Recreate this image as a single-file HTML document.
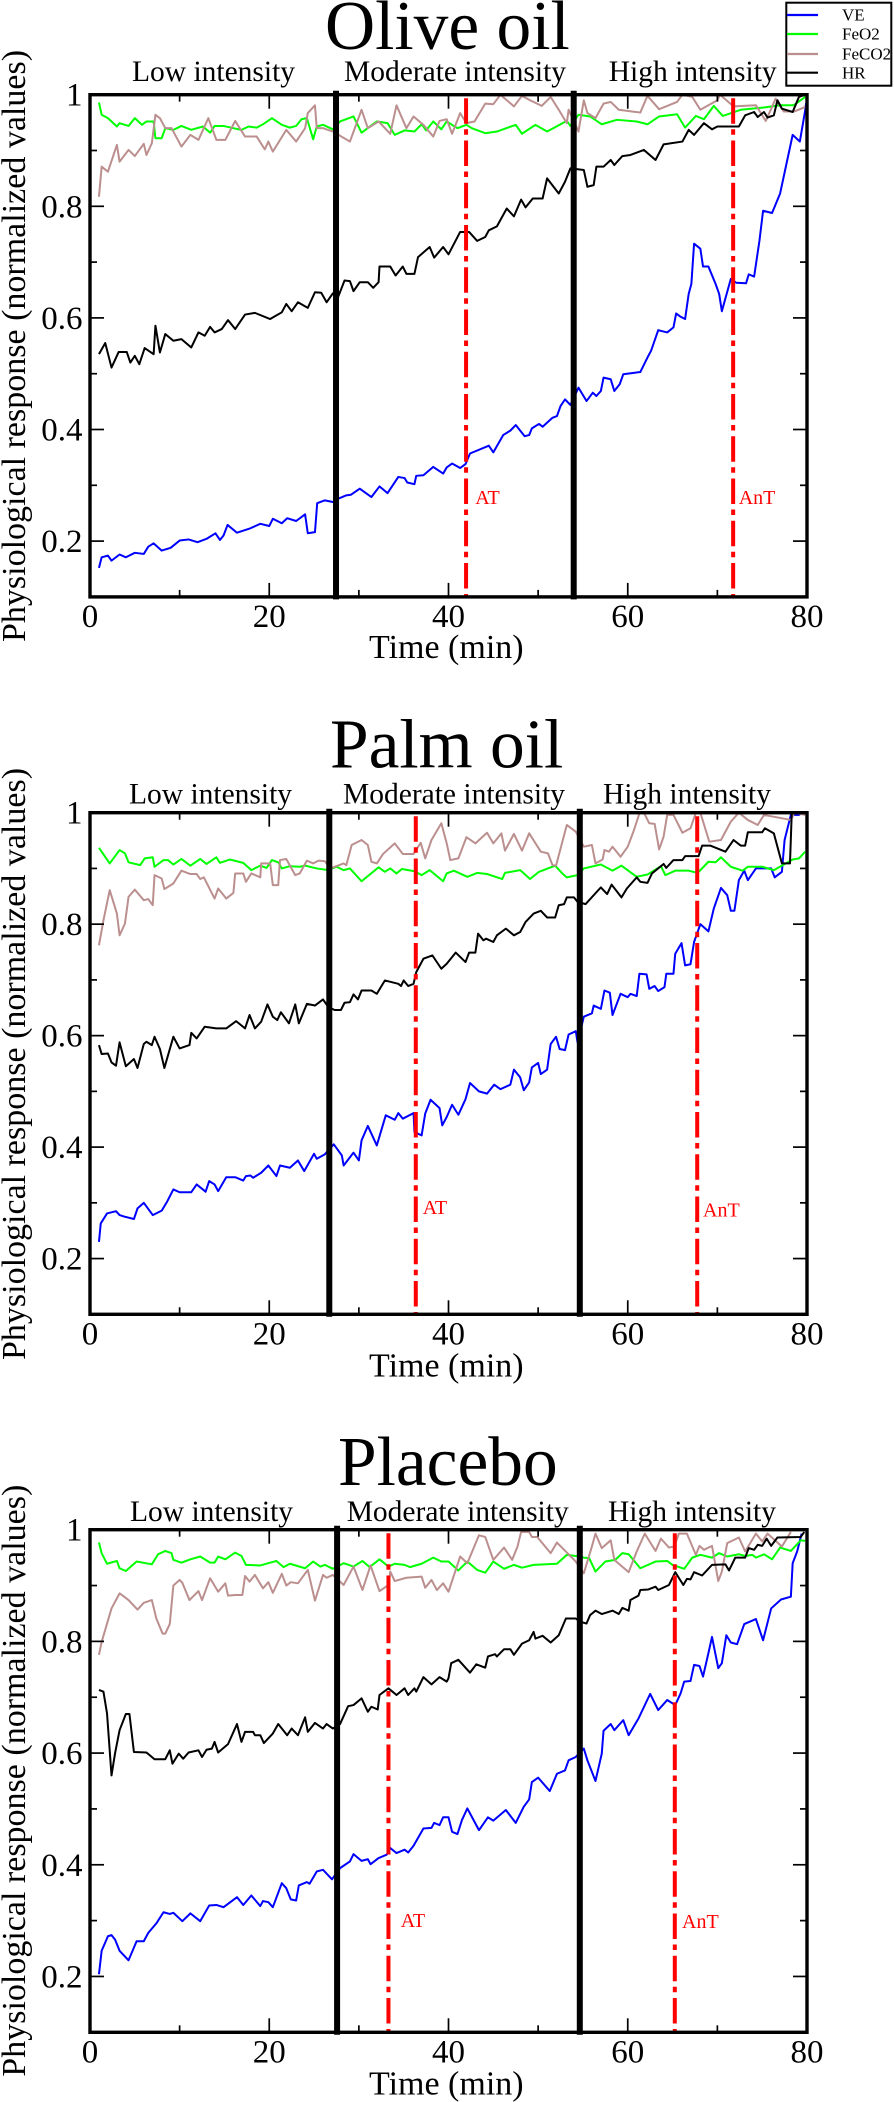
<!DOCTYPE html>
<html lang="en">
<head>
<meta charset="utf-8">
<title>Physiological response during exercise: Olive oil, Palm oil, Placebo</title>
<style>
html,body{margin:0;padding:0;background:#fff;}
svg{display:block;filter:blur(0.35px);}
text{font-family:"Liberation Serif","DejaVu Serif",serif;fill:#000;}
.title{font-size:69.4px;}
.zone{font-size:29.5px;}
.axis-title{font-size:34px;}
.tick{font-size:33px;}
.marker{font-size:20px;fill:#f00;}
.leg{font-size:17px;}
</style>
</head>
<body>
<svg id="figure" xmlns="http://www.w3.org/2000/svg" width="894" height="2102" viewBox="0 0 894 2102">
<rect width="894" height="2102" fill="#fff"/>

<g id="panel-olive">
<text class="title" x="325" y="49">Olive oil</text>
<text class="zone" x="132" y="81">Low intensity</text>
<text class="zone" x="344" y="81">Moderate intensity</text>
<text class="zone" x="608.7" y="81">High intensity</text>
<text class="marker" x="475.3" y="504">AT</text>
<text class="marker" x="738.7" y="504">AnT</text>
<text class="axis-title" x="369" y="658">Time (min)</text>
<text class="axis-title" transform="translate(25 642) rotate(-90)">Physiological response (normalized values)</text>
</g>

<g id="panel-palm">
<text class="title" x="330" y="767.7">Palm oil</text>
<text class="zone" x="129" y="803.3">Low intensity</text>
<text class="zone" x="343" y="803.3">Moderate intensity</text>
<text class="zone" x="603" y="803.3">High intensity</text>
<text class="marker" x="422.7" y="1214">AT</text>
<text class="marker" x="703" y="1216.7">AnT</text>
<text class="axis-title" x="369" y="1376.7">Time (min)</text>
<text class="axis-title" transform="translate(25 1360) rotate(-90)">Physiological response (normalized values)</text>
</g>

<g id="panel-placebo">
<text class="title" x="338" y="1485">Placebo</text>
<text class="zone" x="130" y="1521">Low intensity</text>
<text class="zone" x="346.7" y="1521">Moderate intensity</text>
<text class="zone" x="608" y="1521">High intensity</text>
<text class="marker" x="400.7" y="1927">AT</text>
<text class="marker" x="682" y="1928">AnT</text>
<text class="axis-title" x="369" y="2094.3">Time (min)</text>
<text class="axis-title" transform="translate(25 2076.7) rotate(-90)">Physiological response (normalized values)</text>
</g>

<g id="legend">
<rect x="786.3" y="2.7" width="105" height="83" fill="#fff" stroke="#000" stroke-width="2"/>
<line x1="787" x2="818" y1="15" y2="15" stroke="#0000ff" stroke-width="2.2"/>
<text class="leg" x="842" y="20.7">VE</text>
<line x1="787" x2="818" y1="34" y2="34" stroke="#00ff00" stroke-width="2.2"/>
<text class="leg" x="842" y="39.3">FeO2</text>
<line x1="787" x2="818" y1="54" y2="54" stroke="#bc8f8f" stroke-width="2.2"/>
<text class="leg" x="842" y="59.3">FeCO2</text>
<line x1="787" x2="818" y1="72.7" y2="72.7" stroke="#000" stroke-width="2.2"/>
<text class="leg" x="842" y="78.3">HR</text>
</g>
</svg>

<script>
const xTicksMajor = [0, 20, 40, 60, 80];
const xTicksMinor = [10, 30, 50, 70];
const yTicksMajor = [0.2, 0.4, 0.6, 0.8, 1];
const yTicksMinor = [0.3, 0.5, 0.7, 0.9];
const xTickLabels = ["0", "20", "40", "60", "80"];
const yTickLabels = ["0.2", "0.4", "0.6", "0.8", "1"];

const oliveBoundaries = [27.45, 53.97];
const oliveThresholds = [41.96, 71.76];
const palmBoundaries = [26.7, 54.65];
const palmThresholds = [36.35, 67.75];
const placeboBoundaries = [27.57, 54.65];
const placeboThresholds = [33.3, 65.25];

const oliveVeTime = [1,1.3,2,2.4,3.3,4,5,6,6.5,7.1,
8,9,10,11,12,13,14,14.5,14.9,15.35,
16.4,17.9,19,20,20.4,21.4,22,23,24,24.3,
25.1,25.35,26.2,27.1,27.7,28.6,29.1,30.1,31.4,32.3,
33.2,34.4,35.1,35.4,36.2,36.4,37.2,38.3,39.4,39.8,
40.4,41.3,41.9,42.4,44.5,45,46.1,46.9,47.5,48.5,
49,49.3,50.1,50.5,51.6,52.1,52.5,53,53.6,54.5,
55.4,56.1,56.5,57,57.3,58.1,58.5,59.1,59.5,61.4,
62.2,62.6,63.4,64.4,65.1,65.4,65.9,66.4,66.8,67.1,
67.4,68.1,68.4,69,69.8,70.2,70.5,71.5,72.1,73.2,
73.5,74.1,74.7,75.1,76.1,77,77.8,78.4,79.2,79.8,
79.9];
const oliveVeValues = [.152,.171,.174,.165,.176,.171,.179,.177,.19,.196,
.183,.188,.201,.203,.198,.204,.214,.202,.21,.229,
.215,.223,.231,.227,.24,.232,.241,.236,.248,.214,
.216,.268,.273,.27,.276,.282,.283,.294,.279,.298,
.286,.315,.313,.305,.302,.317,.318,.333,.321,.332,
.339,.331,.338,.357,.371,.359,.39,.398,.408,.388,
.39,.402,.41,.405,.421,.424,.442,.454,.444,.475,
.451,.466,.46,.469,.493,.49,.469,.481,.499,.503,
.529,.541,.578,.574,.583,.608,.602,.598,.643,.661,
.733,.724,.692,.692,.661,.643,.612,.67,.663,.662,
.678,.674,.739,.792,.788,.823,.883,.928,.916,.972,
.985];

const oliveFeo2Time = [1,1.3,2,3,3.3,4.3,5,5.8,6.3,7.1,
7.3,8,8.4,9.3,10.2,11.3,12.6,13.4,13.9,14.9,
16,16.9,17.7,18.6,19.3,20.3,21.4,22.3,23,23.6,
24.2,24.9,25.3,26,27.1,27.9,29.4,30.3,32,33.2,
34,35.1,36.2,37,37.5,38.3,39.2,39.8,41,42,
42.6,44.1,45.4,47.5,48.2,49.7,51,53.2,53.6,54.5,
55.8,57.1,58.8,61,62.2,63.5,65.5,66.4,67.6,68.5,
69.6,70.6,72.6,75.2,77,78.5,79.8];
const oliveFeo2Values = [.986,.964,.958,.943,.949,.944,.958,.946,.952,.952,
.922,.922,.94,.937,.944,.937,.943,.932,.944,.944,
.94,.937,.943,.941,.947,.958,.946,.941,.944,.956,
.958,.92,.943,.946,.938,.952,.961,.932,.952,.949,
.928,.936,.934,.947,.936,.952,.938,.952,.94,.946,
.94,.931,.934,.946,.93,.946,.934,.953,.944,.964,
.961,.947,.955,.952,.947,.961,.965,.941,.962,.956,
.98,.962,.973,.977,.981,.981,.996];

const oliveFeco2Time = [1,1.3,2,3,3.3,4.3,5,6,6.3,6.9,
7.3,7.8,8.4,9.1,10.2,11.2,12.1,13.2,14.1,15.1,
16.2,17.3,18.6,19.5,19.9,20.4,21.9,23,24,24.3,
25.1,25.3,26,27.1,29,30.3,31,32.2,33.5,34.2,
35.3,36.1,37.2,38.3,39,39.8,40.4,41.3,42,42.9,
44.1,45,45.8,47.3,48.2,49.1,50.4,51.4,52.3,53.2,
53.4,54.5,55.1,55.5,56.4,57.3,58.1,59,61.4,62.2,
63.5,65.5,66.1,67.2,68.1,70,70.3,71.8,74.3,75.4,
76.5,77.4,78.6,79.8];
const oliveFeco2Values = [.817,.871,.862,.91,.88,.901,.89,.912,.892,.913,
.964,.958,.94,.94,.907,.928,.919,.958,.919,.919,
.953,.925,.925,.902,.916,.898,.937,.916,.94,.967,
.981,.94,.94,.934,.916,.973,.94,.952,.93,.981,
.94,.961,.946,.925,.953,.956,.93,.967,.949,.952,
.984,.983,1,.979,.998,.99,.98,.996,.973,.949,
.973,.934,.99,.967,.958,.984,.987,.973,.968,.998,
.974,.987,1,.996,.973,.99,1,.979,.981,.953,
.993,.97,.97,.978];

const oliveHrTime = [1,1.7,2.4,3.2,4.1,4.5,5,5.5,6.1,7.1,
7.3,7.8,8.4,9.3,10.2,11.3,12.1,12.8,13.4,13.9,
14.7,15.4,16.2,17.3,18.4,20.1,21.4,21.9,22.5,23.2,
24.3,25.1,25.8,26.4,27.1,27.7,28.4,29,29.4,30.1,
31,31.6,32.2,32.3,33.5,34.1,34.9,35.3,36.2,36.6,
37.9,38.4,39.4,40,41.3,42.3,43.2,44.1,44.5,45.4,
46.5,47.3,48.1,48.6,49.4,50.5,51,52.3,53,53.6,
55.1,55.5,56.2,56.5,57.3,58.1,58.5,59.4,60.3,61.8,
63.1,64,66.1,66.8,67.4,68.5,69.4,70,72.4,73.1,
74.1,74.5,75.2,75.6,76.3,76.7,77.2,78.4,79.1,79.8];
const oliveHrValues = [.535,.555,.511,.539,.539,.52,.532,.517,.546,.535,
.586,.538,.571,.559,.562,.547,.574,.568,.584,.574,
.58,.596,.58,.606,.609,.598,.61,.625,.612,.628,
.618,.646,.645,.628,.644,.638,.667,.666,.648,.664,
.664,.654,.664,.692,.692,.676,.692,.679,.679,.709,
.727,.708,.727,.714,.754,.754,.738,.745,.757,.764,
.796,.782,.812,.798,.814,.814,.85,.823,.844,.868,
.865,.835,.838,.871,.871,.883,.874,.89,.892,.901,
.883,.911,.916,.937,.928,.949,.938,.943,.943,.963,
.969,.96,.969,.959,.963,.99,.975,.969,.996,1];

const palmVeTime = [1,1.2,1.9,2.9,3.3,3.9,4.9,5.3,6,7,
8,8.6,9.3,10,11.3,11.9,12.9,13.3,13.9,14.3,
15.2,16.2,17.1,17.4,17.9,18.2,19.1,19.9,20.8,21.2,
22.3,23.2,23.9,25,25.3,26.2,27.2,28.1,28.3,29.4,
30,30.3,31,32,33,34,34.4,34.9,36.1,36.2,
37,37.4,38,39,39.3,39.8,40.4,41.1,41.9,42.4,
43.4,44.3,45.1,45.8,46.9,47.3,48,48.4,49,49.3,
50,50.3,51,51.4,52,52.4,53,53.4,54.2,54.4,
55.1,56,56.2,57,57.4,58,58.3,59.2,60,60.3,
61,61.3,62.1,62.4,63,63.4,64.1,64.3,65.1,65.3,
66,66.4,67,67.4,68.1,69,69.6,70.4,71.1,71.5,
71.9,72.4,73,73.4,74.3,76,76.4,77.2,77.5,78.2,
78.4,79.1,79.5];
const palmVeValues = [.23,.263,.281,.285,.278,.275,.271,.29,.3,.278,
.286,.302,.324,.319,.319,.333,.32,.339,.333,.321,
.346,.346,.34,.348,.349,.345,.354,.367,.348,.367,
.363,.376,.357,.388,.379,.387,.405,.385,.367,.39,
.376,.412,.438,.403,.457,.449,.461,.451,.461,.427,
.421,.46,.485,.47,.439,.454,.476,.458,.486,.515,
.5,.496,.512,.504,.512,.539,.525,.502,.516,.543,
.551,.531,.539,.585,.598,.576,.574,.602,.608,.588,
.634,.64,.654,.648,.681,.677,.637,.675,.669,.675,
.671,.711,.71,.684,.689,.68,.687,.711,.711,.747,
.766,.726,.728,.768,.8,.787,.828,.865,.852,.824,
.824,.879,.896,.879,.9,.9,.884,.894,.951,.996,
.996,.996,1];

const palmFeo2Time = [1,2.2,3.3,3.9,4.3,5.6,6.1,7,7.2,8.2,
8.7,9.3,10.2,11.2,12.3,13,14.1,14.5,15.6,17.1,
18,19,19.7,20.3,21,21.4,22.3,23.4,24,25.3,
26.6,27.5,28.3,29,30.3,32.2,32.9,33.5,34.2,34.8,
36.2,37,37.9,39.4,39.8,40.6,42.1,43.2,44.3,46,
46.3,48,49.1,50.1,51.9,52.7,53.2,54.4,55.1,57,
58.3,59.3,61,62.2,63.7,64.2,65.3,66.8,67.8,69,
69.8,70.4,71.5,72.8,73.4,75,76.3,77.3,78.4,79.1,
79.8];
const palmFeo2Values = [.937,.909,.933,.927,.911,.906,.918,.92,.903,.915,
.915,.907,.917,.905,.917,.908,.92,.91,.916,.91,
.897,.905,.901,.915,.911,.9,.904,.903,.905,.9,
.897,.903,.897,.9,.877,.902,.894,.9,.891,.899,
.895,.888,.897,.877,.891,.896,.885,.892,.89,.881,
.892,.897,.881,.894,.905,.891,.884,.888,.9,.907,
.896,.905,.885,.889,.904,.888,.896,.896,.892,.912,
.911,.92,.903,.896,.903,.903,.897,.906,.916,.918,
.93];

const palmFeco2Time = [1,1.5,2.2,3,3.3,3.9,4.3,5,6,6.5,
7,7.2,8,8.3,9.3,10.2,11.2,11.9,12.3,12.7,
13.9,14.3,15.2,16,16.2,17.1,17.4,18,19,19.1,
20.1,20.4,21,21.2,21.9,22.9,23.4,24.2,24.9,25.5,
26.2,26.8,28.3,28.6,29.2,30.3,31,31.4,32,32.7,
34,34.9,36.1,36.9,37.4,38.1,39.2,39.8,40.2,41.1,
42,43,44.3,45,45.9,46.3,47.3,48.2,49,50.3,
51.1,51.6,52,53.2,54.2,55.1,56,56.4,57.2,57.4,
57.9,58.3,59.2,60,60.7,61.3,61.8,62.4,63,63.5,
64,64.4,65.1,66.1,67,67.6,68.1,69.1,70.4,71.5,
72.4,73.4,74.5,75.2,78.2,78.6,79.8];
const palmFeco2Values = [.762,.807,.861,.819,.78,.801,.849,.862,.843,.845,
.834,.888,.882,.863,.873,.896,.89,.89,.881,.884,
.846,.864,.846,.856,.891,.891,.876,.891,.884,.909,
.909,.87,.87,.915,.917,.888,.891,.914,.909,.914,
.913,.9,.909,.906,.942,.951,.942,.912,.909,.926,
.945,.926,.926,.946,.918,.951,.981,.945,.915,.918,
.956,.945,.964,.945,.963,.932,.962,.932,.963,.93,
.927,.906,.905,.978,.966,.939,.942,.909,.916,.933,
.93,.939,.921,.939,.969,.999,1,.981,.98,.934,
.957,.996,.996,.964,.972,1,1,.948,.951,.984,
1,.987,.978,.996,.987,1,.996];

const palmHrTime = [1,1.3,2,2.4,2.9,3.3,4,4.9,5.3,6,
6.3,6.9,7.2,7.8,8.3,9.3,10,11.1,11.3,11.9,
12.8,14.1,15.2,16.3,17.3,17.8,18.4,19.1,19.8,20.4,
20.9,21.3,22.2,22.9,23.3,24.2,25.1,26,26.6,27.3,
28,28.4,29,29.4,29.9,30.3,31.4,32,32.9,34.4,
34.7,35,35.5,36.1,36.4,37.2,38.2,39.2,39.8,40.8,
41.9,42.3,43,43.3,43.9,44.2,45,45.4,46.4,47.3,
48,48.6,49.5,50.3,51,51.9,52.3,52.9,53.2,54,
54.4,55.3,57,57.7,58.2,59.3,59.9,61,61.4,62.2,
62.7,64,64.3,65.1,66.1,66.4,67.9,68.3,69.2,70.9,
71.8,72.6,73.1,73.4,75,75.3,76.3,77.2,78.1,78.3];
const palmHrValues = [.583,.567,.568,.552,.546,.588,.545,.558,.542,.585,
.589,.583,.598,.576,.542,.598,.577,.583,.605,.595,
.616,.613,.613,.626,.613,.637,.613,.625,.656,.634,
.628,.642,.622,.656,.622,.657,.654,.665,.651,.646,
.646,.659,.66,.674,.665,.681,.681,.675,.699,.693,
.689,.699,.689,.693,.714,.738,.744,.72,.729,.749,
.732,.749,.749,.783,.771,.774,.768,.78,.792,.78,
.786,.804,.819,.824,.812,.812,.834,.836,.848,.848,
.84,.836,.866,.854,.871,.848,.864,.884,.876,.874,
.891,.908,.901,.915,.915,.922,.922,.941,.941,.93,
.951,.941,.941,.965,.965,.972,.963,.909,.909,1];

const placeboVeTime = [1,1.3,2,2.4,2.8,3.3,4.3,5.2,6,6.5,
7.4,8.2,8.9,9.3,10.3,11.2,12.3,13.3,14.1,14.9,
16.4,17.1,18,19,19.3,19.9,20.4,21.4,21.9,22.4,
23,23.3,24.2,24.5,25.3,26,27,27.9,29,29.4,
30.3,31,31.3,32.2,33.1,33.5,34.2,35.1,35.5,36.1,
37.2,38.1,38.4,39,39.4,40,40.4,41,41.5,42.1,
43.4,44.4,45,46.4,47.5,48.4,49,49.3,50,51.3,
52.1,53,53.4,54.2,55.1,55.5,56.4,57.1,57.3,58.1,
58.5,59.5,60.1,61.2,62.5,63.4,64.4,65.3,65.9,66.3,
67,67.4,68,68.4,69,69.4,70.1,70.5,71,71.5,
72.2,73,74.3,75.1,76,77.1,78.2,78.4,78.9,79.4];
const placeboVeValues = [.204,.246,.272,.274,.266,.246,.229,.263,.263,.278,
.295,.315,.312,.314,.299,.313,.299,.327,.328,.324,
.342,.328,.345,.326,.335,.333,.324,.367,.358,.338,
.336,.363,.369,.366,.388,.391,.374,.394,.406,.419,
.407,.41,.401,.412,.418,.43,.421,.427,.422,.434,
.465,.466,.475,.471,.485,.485,.459,.455,.48,.501,
.462,.485,.479,.498,.475,.504,.517,.548,.556,.532,
.563,.569,.587,.593,.608,.587,.55,.599,.64,.652,
.641,.659,.632,.662,.706,.677,.695,.686,.707,.728,
.729,.758,.756,.737,.779,.808,.752,.761,.811,.798,
.795,.831,.84,.802,.859,.875,.88,.94,.961,.993];

const placeboFeo2Time = [1,1.3,1.9,3,3.3,4,5.2,6.9,7.6,8.4,
9.1,9.3,10.2,11.2,12.3,13.4,13.9,14.3,15.1,16.2,
16.9,17.4,19,20.8,21.6,22.3,24,24.9,25.7,26.2,
27.1,28.3,29.4,30.4,31.2,32.3,33.3,34,35.1,35.7,
37,38.3,39.2,40,41.1,42.1,43.2,44.1,45,46.2,
47.3,48.2,49.5,52.1,53.2,54.2,55.1,55.7,56.4,57.5,
58.6,59.4,60.1,61.4,63.1,64.4,65,66.3,67.2,68.1,
69.4,70.2,71.1,72.4,73.1,73.9,74.3,75.2,76.1,77,
78.2,79.3,79.8];
const placeboFeo2Values = [.977,.958,.939,.944,.931,.926,.943,.938,.956,.962,
.958,.946,.941,.947,.952,.941,.941,.952,.947,.959,
.953,.937,.936,.944,.933,.939,.931,.943,.934,.937,
.93,.94,.934,.944,.933,.947,.934,.939,.937,.933,
.939,.95,.943,.943,.927,.943,.928,.923,.943,.93,
.937,.932,.937,.939,.955,.953,.95,.949,.925,.943,
.946,.958,.956,.931,.943,.944,.937,.93,.95,.955,
.95,.958,.952,.956,.953,.955,.95,.956,.947,.968,
.962,.981,.98];

const placeboFeco2Time = [1,1.3,2.4,3.3,4.3,5.3,6,6.9,7.4,8.1,
8.4,8.9,9.3,10,10.3,11.1,12.1,12.5,13.4,14.3,
15.1,15.4,16.2,17,17.3,17.8,18.4,19.3,19.9,20.4,
21.4,21.9,22.4,23.2,24.3,25.1,26,26.4,27.1,28.3,
29.4,30.4,31.3,32.3,33.3,33.5,34,35.3,37,37.4,
38.1,38.7,39.4,40,41.3,42.1,43.4,44.1,45,46.2,
47.1,47.7,48.1,49,49.3,49.9,51.4,52.1,54.2,55.1,
56,56.4,57.1,58.1,58.5,60.1,61,61.9,63.1,63.7,
64.6,65.2,65.7,66.6,67.6,68,68.5,69.4,70.1,70.5,
71.1,72.4,73.1,74.3,75,75.6,77.2,78.2];
const placeboFeco2Values = [.776,.799,.859,.886,.874,.857,.869,.874,.841,.814,
.814,.831,.9,.91,.905,.874,.89,.874,.913,.889,
.904,.882,.883,.883,.917,.907,.919,.895,.906,.887,
.921,.9,.906,.904,.928,.873,.919,.914,.919,.901,
.934,.892,.936,.89,.901,.925,.908,.914,.916,.896,
.91,.892,.904,.889,.952,.94,.99,.987,.946,.968,
.946,.97,.996,.996,.987,.987,.958,.977,.943,.922,
.97,.993,.967,.981,.946,.924,.961,.993,.962,.984,
.968,.97,.993,.993,.955,.971,.964,.971,.908,.925,
.976,.986,.961,.993,.979,.993,.97,.996];

const placeboHrTime = [1,1.5,1.9,2.4,2.8,3.3,4,4.4,4.9,6.3,
7.2,8.4,8.9,9.2,9.9,10.4,11,12.1,12.5,13,
13.6,13.9,14.3,15.4,16.4,16.9,17.3,18.2,18.4,19,
19.4,20.4,21,22,22.5,23.2,24,24.3,25.1,26,
26.4,27.1,27.9,28.8,29.4,30.3,31,31.4,32.1,32.3,
33.3,34.2,35.1,35.5,36.2,36.4,37.2,38.1,39,39.8,
40,40.3,41.1,42.4,43.1,44.1,44.4,45.2,45.4,46.2,
46.9,47.3,48.2,49,49.5,49.7,50.5,51.4,52.3,53.1,
54.2,54.7,55.4,55.8,56.4,57.1,58.3,59,59.4,60.1,
60.3,61.2,61.4,62.3,63.1,63.4,64.6,65.3,66.2,66.6,
67,67.4,68.3,69.4,70.9,71.3,72,73.1,73.5,74.1,
74.5,75,75.5,76,76.7,79.3,79.7];
const placeboHrValues = [.713,.71,.671,.56,.6,.641,.67,.67,.602,.601,
.589,.589,.605,.581,.599,.59,.601,.605,.593,.606,
.608,.62,.601,.616,.652,.62,.638,.638,.632,.632,
.618,.635,.652,.632,.644,.632,.664,.638,.654,.644,
.652,.644,.652,.684,.686,.698,.674,.683,.678,.704,
.716,.704,.716,.704,.716,.71,.736,.723,.736,.728,
.734,.761,.767,.744,.759,.753,.773,.777,.773,.786,
.786,.776,.796,.802,.817,.805,.81,.798,.811,.841,
.841,.835,.832,.847,.855,.849,.855,.849,.86,.855,
.874,.882,.892,.893,.898,.892,.901,.924,.901,.912,
.911,.924,.918,.937,.938,.927,.95,.95,.967,.964,
.973,.971,.984,.971,.986,.987,.996];

const NS = "http://www.w3.org/2000/svg";
const plotLeft = 90;
const plotRight = 807;
const xMin = 0, xMax = 80, yMin = 0.1, yMax = 1;
const xScale = t => plotLeft + (t - xMin) * (plotRight - plotLeft) / (xMax - xMin);

function makeYScale(top, bottom) {
  return v => top + (yMax - v) * (bottom - top) / (yMax - yMin);
}

function addLine(parent, x1, y1, x2, y2, color, width, name) {
  const el = document.createElementNS(NS, "line");
  el.setAttribute("x1", x1);
  el.setAttribute("y1", y1);
  el.setAttribute("x2", x2);
  el.setAttribute("y2", y2);
  el.setAttribute("stroke", color);
  el.setAttribute("stroke-width", width);
  
  
  parent.appendChild(el);
  return el;
}

function addTickLabel(parent, x, y, label, anchor, name) {
  const el = document.createElementNS(NS, "text");
  el.setAttribute("class", "tick");
  el.setAttribute("x", x);
  el.setAttribute("y", y);
  el.setAttribute("text-anchor", anchor);
  el.textContent = label;
  
  
  parent.appendChild(el);
}

function addSeries(parent, times, values, yScale, color, name) {
  const n = Math.min(times.length, values.length);
  const pts = [];
  for (let i = 0; i < n; i++) {
    pts.push(xScale(times[i]).toFixed(2) + "," + yScale(values[i]).toFixed(2));
  }
  const el = document.createElementNS(NS, "polyline");
  el.setAttribute("points", pts.join(" "));
  el.setAttribute("fill", "none");
  el.setAttribute("stroke", color);
  el.setAttribute("stroke-width", "2");
  el.setAttribute("stroke-linejoin", "round");
  
  
  parent.appendChild(el);
}

function drawPanel(groupId, top, bottom, seriesList, boundaries, thresholds) {
  const group = document.getElementById(groupId);
  const yScale = makeYScale(top, bottom);

  seriesList.forEach(s => addSeries(group, s[0], s[1], yScale, s[2], s[3]));

  thresholds.forEach((t, i) => {
    const ln = addLine(group, xScale(t), top + 3.5, xScale(t), bottom, "#f00", 4, i === 0 ? "at-threshold-line" : "ant-threshold-line");
    ln.setAttribute("stroke-dasharray", "25.5 5.6 5.5 5.65");
  });

  const frame = document.createElementNS(NS, "rect");
  frame.setAttribute("x", plotLeft);
  frame.setAttribute("y", top);
  frame.setAttribute("width", plotRight - plotLeft);
  frame.setAttribute("height", bottom - top);
  frame.setAttribute("fill", "none");
  frame.setAttribute("stroke", "#000");
  frame.setAttribute("stroke-width", "3.4");
  
  
  group.appendChild(frame);

  xTicksMajor.forEach((t, i) => {
    if (t > xMin && t < xMax) {
      addLine(group, xScale(t), bottom, xScale(t), bottom - 14, "#000", 1.7, "x-major-tick");
      addLine(group, xScale(t), top, xScale(t), top + 14, "#000", 1.7, "x-major-tick-top");
    }
    addTickLabel(group, xScale(t), bottom + 30, xTickLabels[i], "middle", "x-tick-label");
  });
  xTicksMinor.forEach(t => {
    addLine(group, xScale(t), bottom, xScale(t), bottom - 7, "#000", 1.7, "x-minor-tick");
    addLine(group, xScale(t), top, xScale(t), top + 7, "#000", 1.7, "x-minor-tick-top");
  });
  yTicksMajor.forEach((v, i) => {
    if (v < yMax) {
      addLine(group, plotLeft, yScale(v), plotLeft + 14, yScale(v), "#000", 1.7, "y-major-tick");
      addLine(group, plotRight, yScale(v), plotRight - 14, yScale(v), "#000", 1.7, "y-major-tick-right");
    }
    addTickLabel(group, 82.5, yScale(v) + 11, yTickLabels[i], "end", "y-tick-label");
  });
  yTicksMinor.forEach(v => {
    addLine(group, plotLeft, yScale(v), plotLeft + 7, yScale(v), "#000", 1.7, "y-minor-tick");
    addLine(group, plotRight, yScale(v), plotRight - 7, yScale(v), "#000", 1.7, "y-minor-tick-right");
  });

  boundaries.forEach(t => {
    addLine(group, xScale(t), top - 4, xScale(t), bottom + 2.5, "#000", 6, "intensity-boundary-line");
  });
}

const colorVe = "#0000ff";
const colorFeo2 = "#00ff00";
const colorFeco2 = "#bc8f8f";
const colorHr = "#000000";

drawPanel("panel-olive", 94.7, 596.9, [
  [oliveVeTime, oliveVeValues, colorVe, "ve-line"],
  [oliveFeo2Time, oliveFeo2Values, colorFeo2, "feo2-line"],
  [oliveFeco2Time, oliveFeco2Values, colorFeco2, "feco2-line"],
  [oliveHrTime, oliveHrValues, colorHr, "hr-line"]
], oliveBoundaries, oliveThresholds);

drawPanel("panel-palm", 812.7, 1314.3, [
  [palmVeTime, palmVeValues, colorVe, "ve-line"],
  [palmFeo2Time, palmFeo2Values, colorFeo2, "feo2-line"],
  [palmFeco2Time, palmFeco2Values, colorFeco2, "feco2-line"],
  [palmHrTime, palmHrValues, colorHr, "hr-line"]
], palmBoundaries, palmThresholds);

drawPanel("panel-placebo", 1529.7, 2032.3, [
  [placeboVeTime, placeboVeValues, colorVe, "ve-line"],
  [placeboFeo2Time, placeboFeo2Values, colorFeo2, "feo2-line"],
  [placeboFeco2Time, placeboFeco2Values, colorFeco2, "feco2-line"],
  [placeboHrTime, placeboHrValues, colorHr, "hr-line"]
], placeboBoundaries, placeboThresholds);
</script>
</body>
</html>
